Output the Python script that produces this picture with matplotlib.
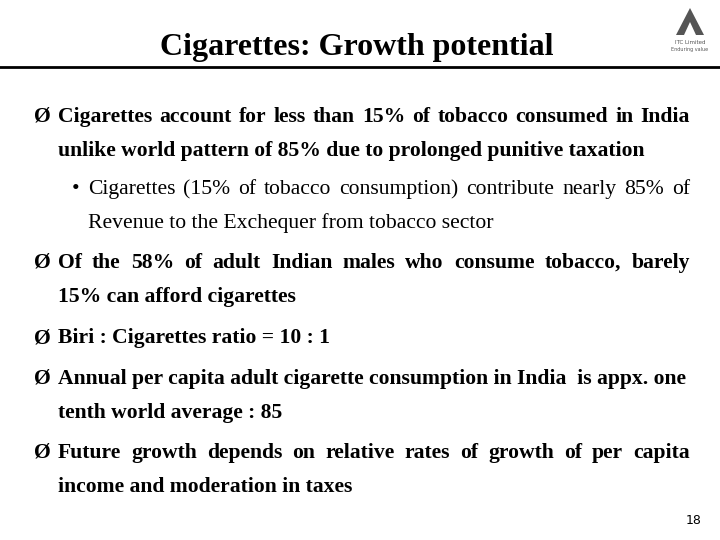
import matplotlib
matplotlib.use("Agg")
import matplotlib.pyplot as plt
from matplotlib.patches import Polygon

title = "Cigarettes: Growth potential"
# (marker, text, justified, y, weight, x start)
lines = [
    ("Ø", "Cigarettes account for less than 15% of tobacco consumed in India", True, 116, "bold", 58),
    ("", "unlike world pattern of 85% due to prolonged punitive taxation", False, 150, "bold", 58),
    ("•", "Cigarettes (15% of tobacco consumption) contribute nearly 85% of", True, 188, "normal", 88),
    ("", "Revenue to the Exchequer from tobacco sector", False, 222, "normal", 88),
    ("Ø", "Of the 58% of adult Indian males who consume tobacco, barely", True, 262, "bold", 58),
    ("", "15% can afford cigarettes", False, 296, "bold", 58),
    ("Ø", "Biri : Cigarettes ratio = 10 : 1", False, 337, "bold", 58),
    ("Ø", "Annual per capita adult cigarette consumption in India  is appx. one", False, 378, "bold", 58),
    ("", "tenth world average : 85", False, 412, "bold", 58),
    ("Ø", "Future growth depends on relative rates of growth of per capita", True, 452, "bold", 58),
    ("", "income and moderation in taxes", False, 486, "bold", 58),
]
page = "18"

fig = plt.figure(figsize=(7.2, 5.4), dpi=100)
ax = fig.add_axes([0, 0, 1, 1])
ax.set_xlim(0, 720)
ax.set_ylim(540, 0)
ax.axis("off")
serif = "Liberation Serif"

ax.text(357, 55, title, ha="center", va="baseline", fontsize=23, fontweight="bold", family=serif)
ax.plot([0, 720], [67, 67], color="black", lw=2)

# logo
ax.add_patch(Polygon([[676, 35], [690, 8], [704, 35]], closed=True, fc="#555555", ec="none"))
ax.add_patch(Polygon([[684, 35], [690, 22], [696, 35]], closed=True, fc="white", ec="none"))
ax.text(690, 42, "ITC Limited", ha="center", va="center", fontsize=4, color="#555555")
ax.text(690, 49, "Enduring value", ha="center", va="center", fontsize=3.5, color="#555555")

fig.canvas.draw()
r = fig.canvas.get_renderer()
fs = 15.6
x_right = 690
for marker, text, just, y, weight, x0 in lines:
    yb = y + 6
    if marker == "Ø":
        ax.text(34, yb, marker, va="baseline", fontsize=fs, fontweight="bold", family=serif)
    elif marker == "•":
        ax.text(72, yb, marker, va="baseline", fontsize=fs, family=serif)
    if not just:
        ax.text(x0, yb, text, va="baseline", fontsize=fs, fontweight=weight, family=serif)
        continue
    words = text.split()
    widths = []
    for w in words:
        t = ax.text(0, 0, w, fontsize=fs, fontweight=weight, family=serif)
        widths.append(t.get_window_extent(r).width)
        t.remove()
    gap = (x_right - x0 - sum(widths)) / (len(words) - 1)
    x = x0
    for w, wd in zip(words, widths):
        ax.text(x, yb, w, va="baseline", fontsize=fs, fontweight=weight, family=serif)
        x += wd + gap

ax.text(702, 521, page, ha="right", va="center", fontsize=9, family="DejaVu Sans")
fig.savefig("out.png", dpi=100)
